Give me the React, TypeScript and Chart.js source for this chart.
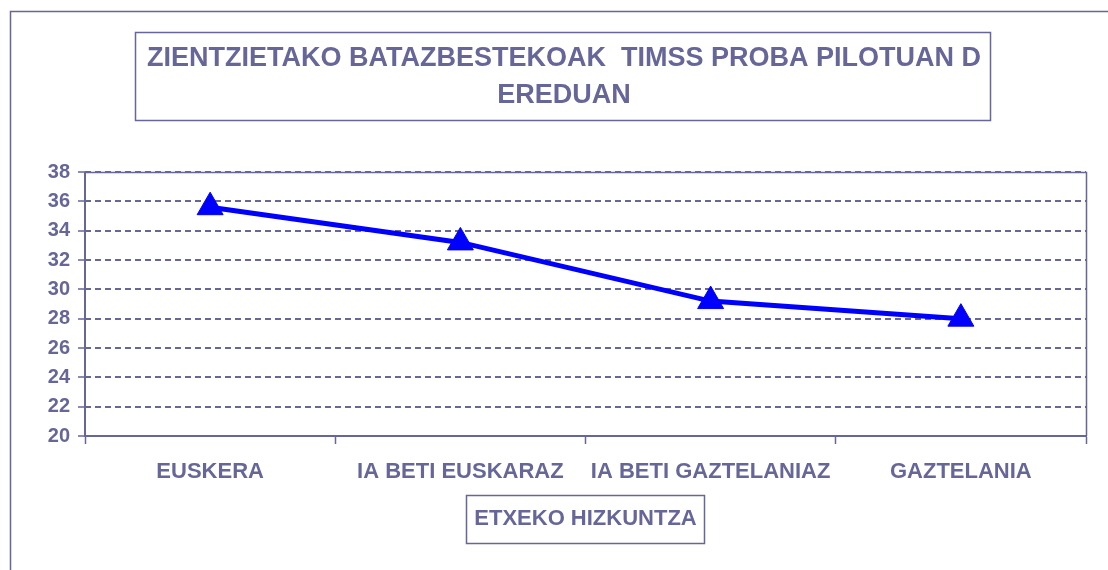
import React, { useEffect, useRef } from "react";
import { Chart, registerables } from "chart.js";

Chart.register(...registerables);

const categories = ["EUSKERA", "IA BETI EUSKARAZ", "IA BETI GAZTELANIAZ", "GAZTELANIA"];
const values = [35.6, 33.2, 29.2, 28.0];
const titleLines = ["ZIENTZIETAKO BATAZBESTEKOAK  TIMSS PROBA PILOTUAN D", "EREDUAN"];
const xAxisTitle = "ETXEKO HIZKUNTZA";
const yMin = 20;
const yMax = 38;
const yStep = 2;

const INK = "#666699";
const FONT = "'Liberation Sans', Arial, sans-serif";

const framePlugin = {
  id: "frames",
  beforeDraw(chart: any) {
    const ctx = chart.ctx;
    ctx.save();
    ctx.fillStyle = "#ffffff";
    ctx.fillRect(0, 0, chart.width, chart.height);
    // outer chart frame
    ctx.strokeStyle = INK;
    ctx.lineWidth = 1.5;
    ctx.strokeRect(10.5, 11.5, chart.width + 20, chart.height + 20);
    ctx.restore();
  },
  beforeDatasetsDraw(chart: any) {
    const { ctx, chartArea } = chart;
    ctx.save();
    ctx.strokeStyle = INK;
    ctx.lineWidth = 1.5;
    ctx.setLineDash([]);
    ctx.beginPath();
    ctx.moveTo(chartArea.left, chartArea.top + 0.5);
    ctx.lineTo(chartArea.right + 0.5, chartArea.top + 0.5);
    ctx.lineTo(chartArea.right + 0.5, chartArea.bottom);
    ctx.stroke();
    // solid value axis line
    ctx.lineWidth = 2;
    ctx.beginPath();
    ctx.moveTo(chartArea.left, chartArea.top);
    ctx.lineTo(chartArea.left, chartArea.bottom + 1);
    ctx.stroke();
    ctx.restore();
  },
  afterDraw(chart: any) {
    const ctx = chart.ctx;
    ctx.save();
    // title box and text
    ctx.strokeStyle = INK;
    ctx.lineWidth = 1.5;
    ctx.strokeRect(135.5, 32.5, 855, 88);
    ctx.fillStyle = INK;
    ctx.font = `bold 27px ${FONT}`;
    ctx.textAlign = "center";
    ctx.textBaseline = "middle";
    titleLines.forEach((line, i) => {
      ctx.fillText(line, 564, 59 + i * 37);
    });
    // axis title box
    const xs = chart.scales.x;
    const titleFont = xs.options.title.font;
    ctx.font = `bold ${titleFont.size}px ${FONT}`;
    const w = ctx.measureText(xAxisTitle).width;
    const cx = (chart.chartArea.left + chart.chartArea.right) / 2;
    const lh = titleFont.size * 1.2;
    const cy = xs.bottom - xs.options.title.padding.bottom - lh / 2;
    ctx.strokeRect(Math.round(cx - w / 2 - 8) + 0.5, Math.round(cy - 24) + 0.5, Math.round(w + 16), 48);
    ctx.restore();
  },
};

export default function App() {
  const ref = useRef<HTMLCanvasElement | null>(null);

  useEffect(() => {
    document.body.style.margin = "0";
    const canvas = ref.current;
    if (!canvas) return;
    const chart = new Chart(canvas, {
      type: "line",
      data: {
        labels: categories,
        datasets: [
          {
            data: values,
            borderColor: "#0000ff",
            backgroundColor: "#0000ff",
            borderWidth: 5,
            pointStyle: "triangle",
            pointRadius: 15,
            pointHoverRadius: 15,
            pointBorderWidth: 1,
            pointBorderColor: "#0000ff",
            pointBackgroundColor: "#0000ff",
            tension: 0,
          },
        ],
      },
      options: {
        responsive: false,
        animation: false,
        events: [],
        layout: { padding: { top: 172, right: 22, left: 0, bottom: 0 } },
        plugins: {
          legend: { display: false },
          tooltip: { enabled: false },
          title: { display: false },
        },
        scales: {
          x: {
            type: "category",
            offset: true,
            afterFit(scale: any) {
              scale.height = 134;
            },
            grid: {
              offset: true,
              drawOnChartArea: false,
              drawTicks: true,
              tickLength: 8,
              tickColor: INK,
              tickWidth: 1.5,
            },
            border: { display: true, color: INK, width: 2 },
            ticks: {
              color: INK,
              padding: 15,
              maxRotation: 0,
              autoSkip: false,
              font: { family: FONT, size: 22, weight: "bold" },
            },
            title: {
              display: true,
              text: xAxisTitle,
              color: INK,
              padding: { top: 0, bottom: 38 },
              font: { family: FONT, size: 22, weight: "bold" },
            },
          },
          y: {
            min: yMin,
            max: yMax,
            afterFit(scale: any) {
              scale.width = 85;
            },
            grid: {
              color: INK,
              lineWidth: 2,
              drawTicks: true,
              tickLength: 7,
              tickColor: INK,
              tickWidth: 1.5,
              tickBorderDash: [],
            },
            border: { display: false, color: INK, width: 2, dash: [6, 4] },
            ticks: {
              stepSize: yStep,
              color: INK,
              padding: 8,
              font: { family: FONT, size: 20, weight: "bold" },
            },
          },
        },
      },
      plugins: [framePlugin],
    });
    return () => chart.destroy();
  }, []);

  return (
    <div style={{ width: 1108, height: 570 }}>
      <canvas ref={ref} width={1108} height={570} style={{ display: "block" }} />
    </div>
  );
}
